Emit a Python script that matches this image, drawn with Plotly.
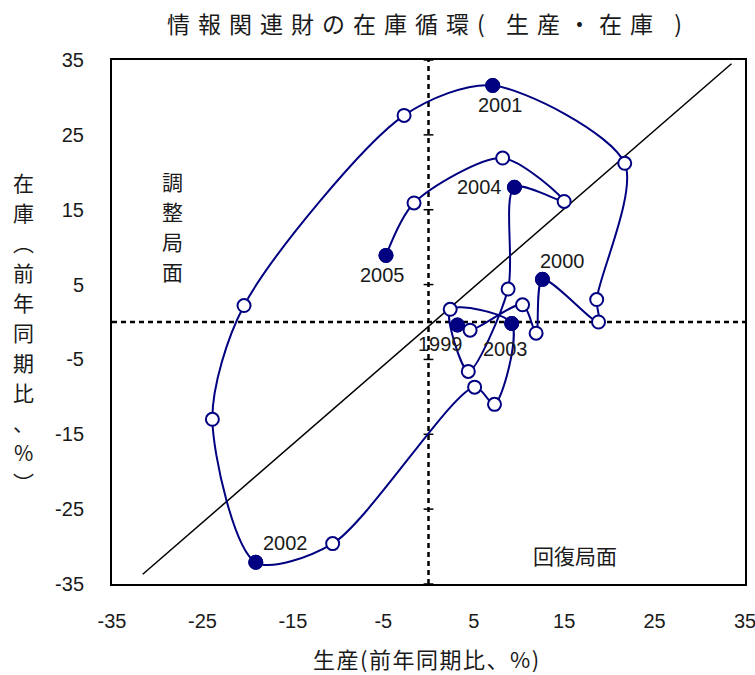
import plotly.graph_objects as go

# ---- data (quarterly, 1999Q1 - 2005Q1) ----
quarters = ["1999Q1", "1999Q2", "1999Q3", "1999Q4",
            "2000Q1", "2000Q2", "2000Q3", "2000Q4",
            "2001Q1", "2001Q2", "2001Q3", "2001Q4",
            "2002Q1", "2002Q2", "2002Q3", "2002Q4",
            "2003Q1", "2003Q2", "2003Q3", "2003Q4",
            "2004Q1", "2004Q2", "2004Q3", "2004Q4",
            "2005Q1"]
production = [3.2, 4.6, 10.4, 11.9,
              12.6, 18.8, 18.6, 21.7,
              7.1, -2.7, -20.4, -23.9,
              -19.1, -10.6, 5.1, 7.3,
              9.2, 2.4, 4.4, 8.8,
              9.5, 15.0, 8.2, -1.6,
              -4.7]
inventory = [-0.4, -1.1, 2.3, -1.5,
             5.7, 0.0, 3.0, 21.2,
             31.6, 27.6, 2.2, -13.0,
             -32.1, -29.6, -8.7, -11.0,
             -0.2, 1.7, -6.6, 4.4,
             18.0, 16.1, 21.9, 15.9,
             8.9]
year_labels = ["1999", "2000", "2001", "2002", "2003", "2004", "2005"]
year_index = [0, 4, 8, 12, 16, 20, 24]
diag_x = [-31.6, 33.5]
diag_y = [-33.7, 34.5]
tick_vals = [-35, -25, -15, -5, 5, 15, 25, 35]
tick_text = ["-35", "-25", "-15", "-5", "5", "15", "25", "35"]

title_text = "情報関連財の在庫循環( 生産・在庫 )"
x_title = "生産(前年同期比、%)"
y_title_chars = ["在", "庫", "︵", "前", "年", "同", "期", "比", "、", "%", "︶"]
adjust_label = "調整局面"
recovery_label = "回復局面"

# label offsets in pixels (dx right, dy down) - styling only
label_offsets = [(-17, 19), (20, -18), (8, 20), (30, -19), (-6, 25), (-35, 0), (-4, 20)]

NAVY = "#000080"
CJK = "Noto Sans CJK JP"
LAT = "Liberation Sans, Arial"
TXT = "#1a1a1a"

fig = go.Figure()

# dashed zero lines
fig.add_trace(go.Scatter(x=[-35, 35], y=[0, 0], mode="lines",
                         line=dict(color="black", width=2.5, dash="5px,4px"),
                         hoverinfo="skip", showlegend=False))
fig.add_trace(go.Scatter(x=[0, 0], y=[-35, 35], mode="lines",
                         line=dict(color="black", width=2.5, dash="5px,4px"),
                         hoverinfo="skip", showlegend=False))
# small tick marks on vertical zero line
fig.add_trace(go.Scatter(x=[0] * len(tick_vals), y=tick_vals, mode="markers",
                         marker=dict(symbol="line-ew", size=7,
                                     line=dict(color="black", width=1.5)),
                         hoverinfo="skip", showlegend=False))
# diagonal
fig.add_trace(go.Scatter(x=diag_x, y=diag_y, mode="lines",
                         line=dict(color="black", width=1.5),
                         hoverinfo="skip", showlegend=False))

# cycle line
fig.add_trace(go.Scatter(x=production, y=inventory, mode="lines+markers",
                         line=dict(color=NAVY, width=2, shape="spline", smoothing=0.8),
                         marker=dict(size=13, color="white",
                                     line=dict(color=NAVY, width=2)),
                         text=quarters, showlegend=False))
# filled markers for Q1 of each year
fig.add_trace(go.Scatter(x=[production[i] for i in year_index],
                         y=[inventory[i] for i in year_index],
                         mode="markers",
                         marker=dict(size=14, color=NAVY,
                                     line=dict(color=NAVY, width=1)),
                         text=year_labels, showlegend=False))

annotations = []
for lab, i, (dx, dy) in zip(year_labels, year_index, label_offsets):
    annotations.append(dict(x=production[i], y=inventory[i], text=lab,
                            showarrow=False, xshift=dx, yshift=-dy,
                            font=dict(family=LAT, size=20, color=TXT)))

# plot area in px: x 112..745, y 60..584
PL, PR, PT, PB = 112, 745, 60, 584

def px2paper(px, py):
    return (px - PL) / (PR - PL), (PB - py) / (PB - PT)

# y-axis title (vertical stacked characters)
for k, ch in enumerate(y_title_chars):
    xp, yp = px2paper(23, 182 + 30 * k)
    annotations.append(dict(x=xp, y=yp, xref="paper", yref="paper", text=ch,
                            showarrow=False, xanchor="center", yanchor="middle",
                            font=dict(family=CJK, size=21, color=TXT)))
# 調整局面 (vertical)
for k, ch in enumerate(adjust_label):
    xp, yp = px2paper(172, 181 + 30 * k)
    annotations.append(dict(x=xp, y=yp, xref="paper", yref="paper", text=ch,
                            showarrow=False, xanchor="center", yanchor="middle",
                            font=dict(family=CJK, size=21, color=TXT)))
# 回復局面
xp, yp = px2paper(575, 555)
annotations.append(dict(x=xp, y=yp, xref="paper", yref="paper", text=recovery_label,
                        showarrow=False, xanchor="center", yanchor="middle",
                        font=dict(family=CJK, size=21, color=TXT)))
# x-axis title
xp, yp = px2paper(427, 658)
annotations.append(dict(x=xp, y=yp, xref="paper", yref="paper",
                        text='<span style="letter-spacing:1.5px">' + x_title + '</span>',
                        showarrow=False, xanchor="center", yanchor="middle",
                        font=dict(family=CJK, size=22, color=TXT)))

fig.update_layout(
    width=755, height=675,
    margin=dict(l=PL, r=755 - PR, t=PT, b=675 - PB, autoexpand=False),
    paper_bgcolor="white", plot_bgcolor="white",
    title=dict(text='<span style="letter-spacing:8px">' + title_text + '</span>',
               x=0.5, xref="paper", xanchor="center",
               y=1 - 25 / 675, yanchor="middle",
               font=dict(family=CJK, size=23, color=TXT)),
    annotations=annotations,
    showlegend=False,
)
fig.update_xaxes(range=[-35, 35], tickvals=tick_vals, ticktext=tick_text,
                 showgrid=False, zeroline=False, automargin=False,
                 showline=True, mirror=True, linecolor="black", linewidth=2,
                 ticks="", ticklabelstandoff=18, ticklabeloverflow="allow",
                 tickfont=dict(family=LAT, size=20, color=TXT))
fig.update_yaxes(range=[-35, 35], tickvals=tick_vals, ticktext=tick_text,
                 showgrid=False, zeroline=False, automargin=False,
                 showline=True, mirror=True, linecolor="black", linewidth=2,
                 ticks="", ticklabelstandoff=22, ticklabeloverflow="allow",
                 tickfont=dict(family=LAT, size=20, color=TXT))

fig.write_html("out.html")
